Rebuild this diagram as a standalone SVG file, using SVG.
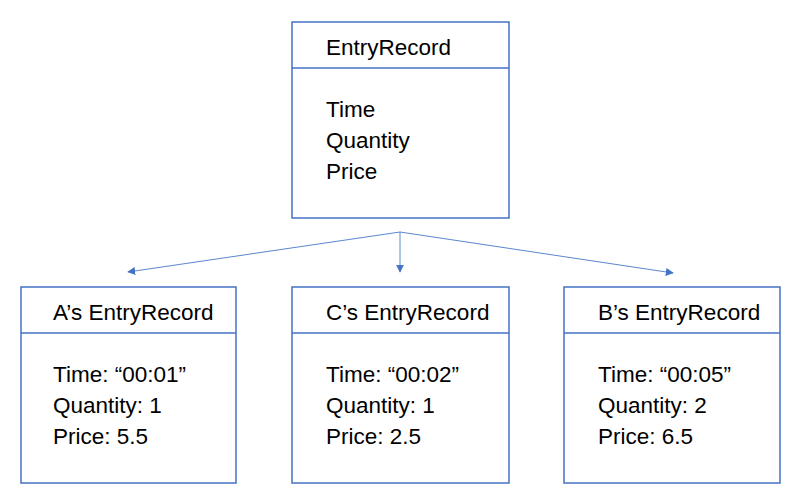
<svg xmlns="http://www.w3.org/2000/svg" width="802" height="499" viewBox="0 0 802 499">
<style>
.box{fill:#fff;stroke:#4472C4;stroke-width:1.5}
.div{stroke:#4472C4;stroke-width:1.5}
.t{font-family:"Liberation Sans",Arial,sans-serif;font-size:22.5px;fill:#000}
.c{stroke:#5B86CF;stroke-width:1;fill:none;marker-end:url(#ah)}
</style>
<defs>
<marker id="ah" viewBox="0 0 10 10" refX="9" refY="5" markerWidth="8" markerHeight="8" markerUnits="userSpaceOnUse" orient="auto">
<path d="M0,0 L10,5 L0,10 z" fill="#4472C4"/>
</marker>
</defs>
<rect width="802" height="499" fill="#fff"/>
<g id="connectors">
<line class="c" x1="400" y1="232" x2="128" y2="272"/>
<line class="c" x1="400" y1="232" x2="400" y2="272"/>
<line class="c" x1="400" y1="232" x2="673" y2="273"/>
</g>
<g id="entryRecord">
<rect class="box" x="292" y="22" width="217" height="196"/>
<line class="div" x1="292" y1="68" x2="509" y2="68"/>
<text class="t" x="326" y="55">EntryRecord</text>
<text class="t" x="326" y="117">Time</text>
<text class="t" x="326" y="148">Quantity</text>
<text class="t" x="326" y="179">Price</text>
</g>
<g id="aRecord">
<rect class="box" x="21" y="287" width="215" height="196"/>
<line class="div" x1="21" y1="333" x2="236" y2="333"/>
<text class="t" x="53" y="320">A’s EntryRecord</text>
<text class="t" x="53" y="382">Time: “00:01”</text>
<text class="t" x="53" y="413">Quantity: 1</text>
<text class="t" x="53" y="444">Price: 5.5</text>
</g>
<g id="cRecord">
<rect class="box" x="292" y="287" width="217" height="196"/>
<line class="div" x1="292" y1="333" x2="509" y2="333"/>
<text class="t" x="326" y="320">C’s EntryRecord</text>
<text class="t" x="326" y="382">Time: “00:02”</text>
<text class="t" x="326" y="413">Quantity: 1</text>
<text class="t" x="326" y="444">Price: 2.5</text>
</g>
<g id="bRecord">
<rect class="box" x="564" y="287" width="216" height="196"/>
<line class="div" x1="564" y1="333" x2="780" y2="333"/>
<text class="t" x="598" y="320">B’s EntryRecord</text>
<text class="t" x="598" y="382">Time: “00:05”</text>
<text class="t" x="598" y="413">Quantity: 2</text>
<text class="t" x="598" y="444">Price: 6.5</text>
</g>
</svg>
